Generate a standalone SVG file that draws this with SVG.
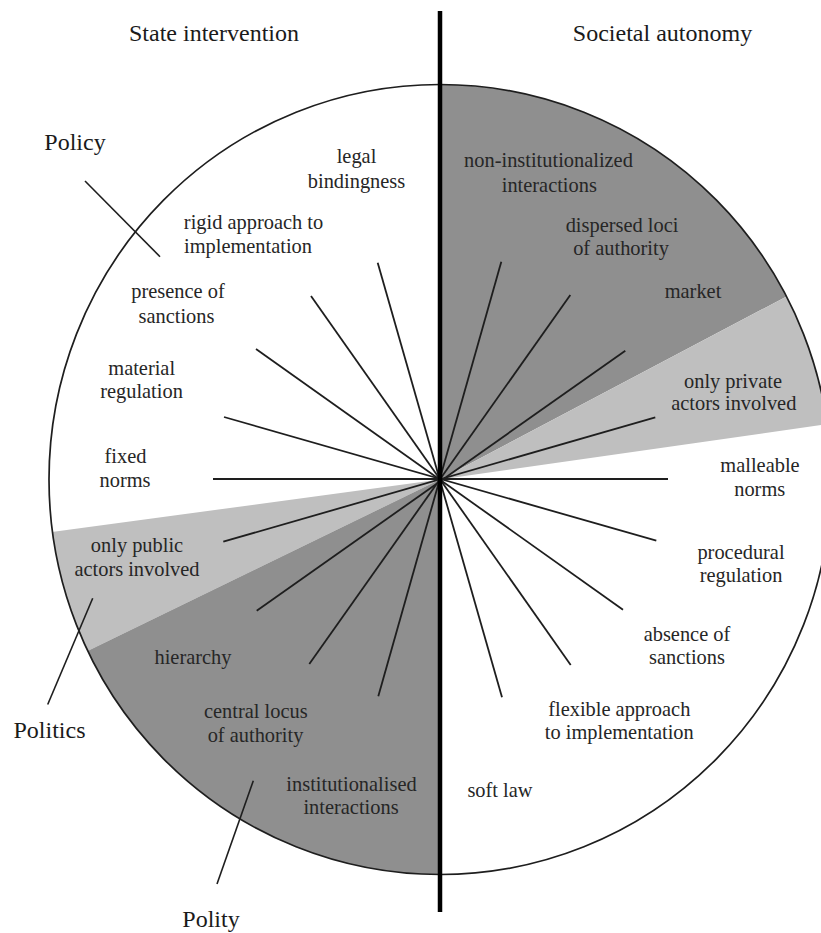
<svg xmlns="http://www.w3.org/2000/svg" width="821" height="933" viewBox="0 0 821 933">
  <style>
    .lbl { font-size: 20.4px; fill: #262626; text-anchor: middle; }
    .head { font-size: 24px; fill: #1a1a1a; text-anchor: middle; }
    .ray { stroke: #1e1e1e; stroke-width: 1.8; fill: none; }
    .tick { stroke: #1e1e1e; stroke-width: 1.6; fill: none; }
    .dark { fill: #8f8f8f; }
    .light { fill: #bfbfbf; }
  </style>
  <defs>
    <clipPath id="disc">
      <ellipse cx="440" cy="479.5" rx="391" ry="395"/>
    </clipPath>
  </defs>

  <rect width="821" height="933" fill="#ffffff"/>

  <!-- shaded sectors, clipped to the disc -->
  <g id="sectors" clip-path="url(#disc)">
    <polygon class="dark" points="440,479.5 440,40 1130,40 1130,115"/>
    <polygon class="light" points="440,479.5 1130,115 1130,380.8"/>
    <polygon class="light" points="440,479.5 -250,573 -250,815.3"/>
    <polygon class="dark" points="440,479.5 -250,815.3 -250,940 440,940"/>
  </g>

  <!-- outer boundary of the disc -->
  <ellipse id="disc-outline" cx="440" cy="479.5" rx="391" ry="395" fill="none" stroke="#1e1e1e" stroke-width="1.7"/>

  <!-- rays through the centre and pointer strokes -->
  <g id="connectors">
    <line class="ray" x1="213" y1="479" x2="668" y2="479"/>
    <line class="ray" x1="377.7" y1="262.7" x2="502" y2="697.3"/>
    <line class="ray" x1="311" y1="296" x2="570.7" y2="665"/>
    <line class="ray" x1="256" y1="349" x2="623" y2="609.7"/>
    <line class="ray" x1="224" y1="417" x2="656.3" y2="540.7"/>
    <line class="ray" x1="223.3" y1="541.7" x2="655.3" y2="417.3"/>
    <line class="ray" x1="256.7" y1="610.7" x2="625.3" y2="350.7"/>
    <line class="ray" x1="309.3" y1="664" x2="570.3" y2="295"/>
    <line class="ray" x1="378.3" y1="696.3" x2="501.3" y2="261.7"/>
    <line class="tick" x1="85" y1="181" x2="160" y2="256.7"/>
    <line class="tick" x1="92.7" y1="598.3" x2="47.7" y2="704.5"/>
    <line class="tick" x1="253.3" y1="780.7" x2="217" y2="884"/>
    <line id="axis" x1="440" y1="11" x2="440" y2="912" stroke="#000000" stroke-width="4.5"/>
  </g>

  <g font-family="Liberation Serif, Tinos, Times New Roman, DejaVu Serif, serif">
  <!-- headings and level names -->
  <g id="heading-state"><text class="head" x="214" y="41">State intervention</text></g>
  <g id="heading-society"><text class="head" x="662.5" y="41">Societal autonomy</text></g>
  <g id="level-policy"><text class="head" x="75" y="150">Policy</text></g>
  <g id="level-politics"><text class="head" x="49.5" y="738">Politics</text></g>
  <g id="level-polity"><text class="head" x="211" y="927">Polity</text></g>

  <!-- state intervention side -->
  <g id="legal-bindingness">
    <text class="lbl" x="356.5" y="163">legal</text>
    <text class="lbl" x="356.5" y="188">bindingness</text>
  </g>
  <g id="rigid-approach">
    <text class="lbl" x="253.5" y="229">rigid approach to</text>
    <text class="lbl" x="248" y="253">implementation</text>
  </g>
  <g id="presence-of-sanctions">
    <text class="lbl" x="178" y="298">presence of</text>
    <text class="lbl" x="176.5" y="323">sanctions</text>
  </g>
  <g id="material-regulation">
    <text class="lbl" x="141.7" y="375">material</text>
    <text class="lbl" x="141.5" y="398">regulation</text>
  </g>
  <g id="fixed-norms">
    <text class="lbl" x="125.5" y="463">fixed</text>
    <text class="lbl" x="125" y="487">norms</text>
  </g>
  <g id="only-public">
    <text class="lbl" x="137" y="551.7">only public</text>
    <text class="lbl" x="137" y="575.7">actors involved</text>
  </g>
  <g id="hierarchy">
    <text class="lbl" x="193" y="664">hierarchy</text>
  </g>
  <g id="central-locus">
    <text class="lbl" x="255.8" y="718">central locus</text>
    <text class="lbl" x="255.5" y="742">of authority</text>
  </g>
  <g id="institutionalised">
    <text class="lbl" x="351.5" y="790.7">institutionalised</text>
    <text class="lbl" x="351" y="814">interactions</text>
  </g>

  <!-- societal autonomy side -->
  <g id="non-institutionalized">
    <text class="lbl" x="548.5" y="167.3">non-institutionalized</text>
    <text class="lbl" x="549.3" y="191.7">interactions</text>
  </g>
  <g id="dispersed-loci">
    <text class="lbl" x="622" y="231.7">dispersed loci</text>
    <text class="lbl" x="621" y="255">of authority</text>
  </g>
  <g id="market">
    <text class="lbl" x="693" y="298.3">market</text>
  </g>
  <g id="only-private">
    <text class="lbl" x="733" y="388.3">only private</text>
    <text class="lbl" x="733.8" y="410">actors involved</text>
  </g>
  <g id="malleable-norms">
    <text class="lbl" x="760" y="471.7">malleable</text>
    <text class="lbl" x="759.7" y="495.7">norms</text>
  </g>
  <g id="procedural-regulation">
    <text class="lbl" x="741" y="559">procedural</text>
    <text class="lbl" x="741" y="582.3">regulation</text>
  </g>
  <g id="absence-of-sanctions">
    <text class="lbl" x="687" y="640.7">absence of</text>
    <text class="lbl" x="687" y="664">sanctions</text>
  </g>
  <g id="flexible-approach">
    <text class="lbl" x="619.3" y="715.7">flexible approach</text>
    <text class="lbl" x="619.3" y="739">to implementation</text>
  </g>
  <g id="soft-law">
    <text class="lbl" x="500" y="797.3">soft law</text>
  </g>
  </g>
</svg>
